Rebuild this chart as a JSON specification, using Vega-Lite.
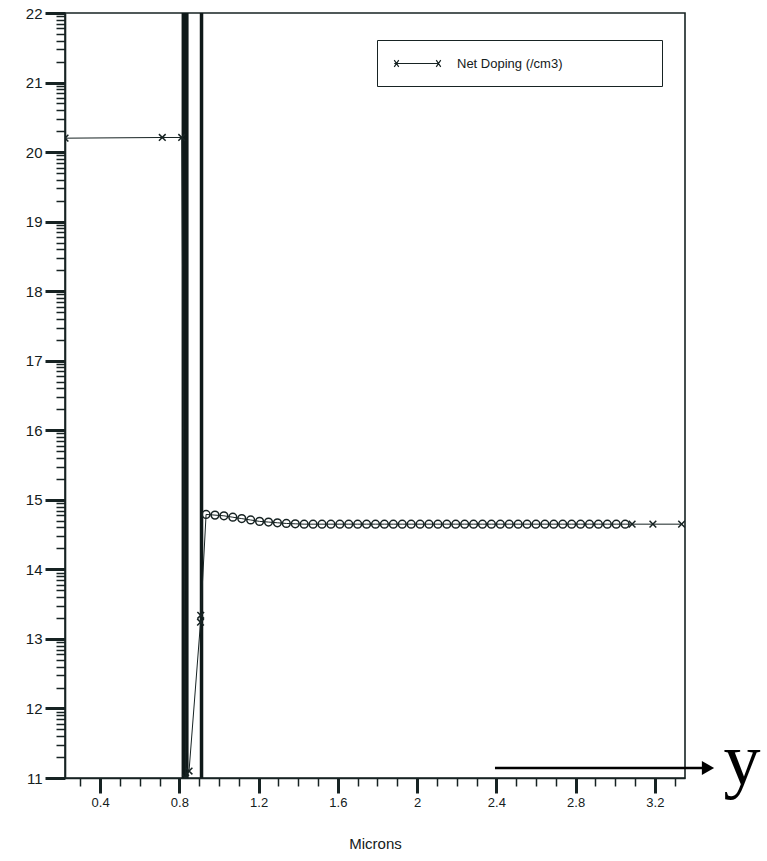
{
  "$schema": "https://vega.github.io/schema/vega-lite/v6.json",
  "width": 620,
  "height": 765,
  "autosize": {"type": "none"},
  "padding": {"left": 65, "top": 13, "right": 82, "bottom": 83},
  "background": "white",
  "config": {
    "view": {"stroke": "#172323", "strokeWidth": 1.6},
    "font": "Liberation Sans",
    "axis": {
      "grid": false,
      "domainColor": "#172323",
      "domainWidth": 1.6,
      "tickColor": "#172323",
      "labelColor": "#142020",
      "labelFont": "Liberation Sans",
      "titleFont": "Liberation Sans",
      "titleFontWeight": "normal",
      "titleColor": "#142020"
    }
  },
  "datasets": {
    "boundaries": [
      {"boundary": "junction", "x": 0.829, "y": 11, "y2": 22},
      {"boundary": "interface", "x": 0.912, "y": 11, "y2": 22}
    ],
    "profile": [
      {"i": 1, "series": "Net Doping (/cm3)", "x": 0.223, "y": 20.2, "marker": "cross"},
      {"i": 2, "series": "Net Doping (/cm3)", "x": 0.714, "y": 20.21, "marker": "cross"},
      {"i": 3, "series": "Net Doping (/cm3)", "x": 0.812, "y": 20.21, "marker": "cross"},
      {"i": 4, "series": "Net Doping (/cm3)", "x": 0.832, "y": 11.0, "marker": "cross"},
      {"i": 5, "series": "Net Doping (/cm3)", "x": 0.849, "y": 11.1, "marker": "cross"},
      {"i": 6, "series": "Net Doping (/cm3)", "x": 0.907, "y": 13.24, "marker": "cross"},
      {"i": 7, "series": "Net Doping (/cm3)", "x": 0.908, "y": 13.34, "marker": "cross"},
      {"i": 8, "series": "Net Doping (/cm3)", "x": 0.935, "y": 14.79, "marker": "circle"},
      {"i": 9, "series": "Net Doping (/cm3)", "x": 0.98, "y": 14.78, "marker": "circle"},
      {"i": 10, "series": "Net Doping (/cm3)", "x": 1.025, "y": 14.77, "marker": "circle"},
      {"i": 11, "series": "Net Doping (/cm3)", "x": 1.07, "y": 14.75, "marker": "circle"},
      {"i": 12, "series": "Net Doping (/cm3)", "x": 1.115, "y": 14.73, "marker": "circle"},
      {"i": 13, "series": "Net Doping (/cm3)", "x": 1.16, "y": 14.71, "marker": "circle"},
      {"i": 14, "series": "Net Doping (/cm3)", "x": 1.205, "y": 14.69, "marker": "circle"},
      {"i": 15, "series": "Net Doping (/cm3)", "x": 1.25, "y": 14.68, "marker": "circle"},
      {"i": 16, "series": "Net Doping (/cm3)", "x": 1.295, "y": 14.67, "marker": "circle"},
      {"i": 17, "series": "Net Doping (/cm3)", "x": 1.34, "y": 14.66, "marker": "circle"},
      {"i": 18, "series": "Net Doping (/cm3)", "x": 1.385, "y": 14.655, "marker": "circle"},
      {"i": 19, "series": "Net Doping (/cm3)", "x": 1.43, "y": 14.65, "marker": "circle"},
      {"i": 20, "series": "Net Doping (/cm3)", "x": 1.475, "y": 14.65, "marker": "circle"},
      {"i": 21, "series": "Net Doping (/cm3)", "x": 1.52, "y": 14.65, "marker": "circle"},
      {"i": 22, "series": "Net Doping (/cm3)", "x": 1.565, "y": 14.65, "marker": "circle"},
      {"i": 23, "series": "Net Doping (/cm3)", "x": 1.61, "y": 14.65, "marker": "circle"},
      {"i": 24, "series": "Net Doping (/cm3)", "x": 1.655, "y": 14.65, "marker": "circle"},
      {"i": 25, "series": "Net Doping (/cm3)", "x": 1.7, "y": 14.65, "marker": "circle"},
      {"i": 26, "series": "Net Doping (/cm3)", "x": 1.745, "y": 14.65, "marker": "circle"},
      {"i": 27, "series": "Net Doping (/cm3)", "x": 1.79, "y": 14.65, "marker": "circle"},
      {"i": 28, "series": "Net Doping (/cm3)", "x": 1.835, "y": 14.65, "marker": "circle"},
      {"i": 29, "series": "Net Doping (/cm3)", "x": 1.88, "y": 14.65, "marker": "circle"},
      {"i": 30, "series": "Net Doping (/cm3)", "x": 1.925, "y": 14.65, "marker": "circle"},
      {"i": 31, "series": "Net Doping (/cm3)", "x": 1.97, "y": 14.65, "marker": "circle"},
      {"i": 32, "series": "Net Doping (/cm3)", "x": 2.015, "y": 14.65, "marker": "circle"},
      {"i": 33, "series": "Net Doping (/cm3)", "x": 2.06, "y": 14.65, "marker": "circle"},
      {"i": 34, "series": "Net Doping (/cm3)", "x": 2.105, "y": 14.65, "marker": "circle"},
      {"i": 35, "series": "Net Doping (/cm3)", "x": 2.15, "y": 14.65, "marker": "circle"},
      {"i": 36, "series": "Net Doping (/cm3)", "x": 2.195, "y": 14.65, "marker": "circle"},
      {"i": 37, "series": "Net Doping (/cm3)", "x": 2.24, "y": 14.65, "marker": "circle"},
      {"i": 38, "series": "Net Doping (/cm3)", "x": 2.285, "y": 14.65, "marker": "circle"},
      {"i": 39, "series": "Net Doping (/cm3)", "x": 2.33, "y": 14.65, "marker": "circle"},
      {"i": 40, "series": "Net Doping (/cm3)", "x": 2.375, "y": 14.65, "marker": "circle"},
      {"i": 41, "series": "Net Doping (/cm3)", "x": 2.42, "y": 14.65, "marker": "circle"},
      {"i": 42, "series": "Net Doping (/cm3)", "x": 2.465, "y": 14.65, "marker": "circle"},
      {"i": 43, "series": "Net Doping (/cm3)", "x": 2.51, "y": 14.65, "marker": "circle"},
      {"i": 44, "series": "Net Doping (/cm3)", "x": 2.555, "y": 14.65, "marker": "circle"},
      {"i": 45, "series": "Net Doping (/cm3)", "x": 2.6, "y": 14.65, "marker": "circle"},
      {"i": 46, "series": "Net Doping (/cm3)", "x": 2.645, "y": 14.65, "marker": "circle"},
      {"i": 47, "series": "Net Doping (/cm3)", "x": 2.69, "y": 14.65, "marker": "circle"},
      {"i": 48, "series": "Net Doping (/cm3)", "x": 2.735, "y": 14.65, "marker": "circle"},
      {"i": 49, "series": "Net Doping (/cm3)", "x": 2.78, "y": 14.65, "marker": "circle"},
      {"i": 50, "series": "Net Doping (/cm3)", "x": 2.825, "y": 14.65, "marker": "circle"},
      {"i": 51, "series": "Net Doping (/cm3)", "x": 2.87, "y": 14.65, "marker": "circle"},
      {"i": 52, "series": "Net Doping (/cm3)", "x": 2.915, "y": 14.65, "marker": "circle"},
      {"i": 53, "series": "Net Doping (/cm3)", "x": 2.96, "y": 14.65, "marker": "circle"},
      {"i": 54, "series": "Net Doping (/cm3)", "x": 3.005, "y": 14.65, "marker": "circle"},
      {"i": 55, "series": "Net Doping (/cm3)", "x": 3.05, "y": 14.65, "marker": "circle"},
      {"i": 56, "series": "Net Doping (/cm3)", "x": 3.085, "y": 14.65, "marker": "cross"},
      {"i": 57, "series": "Net Doping (/cm3)", "x": 3.19, "y": 14.65, "marker": "cross"},
      {"i": 58, "series": "Net Doping (/cm3)", "x": 3.335, "y": 14.65, "marker": "cross"}
    ],
    "arrow": [{"x": 2.393, "x2": 3.455, "y": 11.144}],
    "arrowhead": [{"x": 3.468, "y": 11.144}],
    "arrowlabel": [{"x": 3.64, "y": 10.914, "label": "y"}]
  },
  "encoding": {
    "x": {
      "field": "x", "type": "quantitative",
      "scale": {"domain": [0.223, 3.352], "nice": false, "zero": false},
      "axis": {
        "title": "Microns",
        "titleFontSize": 15,
        "titlePadding": 27,
        "tickCount": 200,
        "values": [0.3, 0.4, 0.5, 0.6, 0.7, 0.8, 0.9, 1.0, 1.1, 1.2, 1.3, 1.4, 1.5, 1.6, 1.7, 1.8, 1.9, 2.0, 2.1, 2.2, 2.3, 2.4, 2.5, 2.6, 2.7, 2.8, 2.9, 3.0, 3.1, 3.2, 3.3],
        "format": "~g",
        "labelExpr": "abs(datum.value*2.5 - round(datum.value*2.5)) < 0.001 ? datum.label : ''",
        "labelFontSize": 13,
        "labelPadding": 3,
        "labelFlush": false,
        "labelOverlap": false,
        "tickSize": {"condition": {"test": "abs(datum.value*2.5 - round(datum.value*2.5)) < 0.001", "value": 15}, "value": 8},
        "tickWidth": {"condition": {"test": "abs(datum.value*2.5 - round(datum.value*2.5)) < 0.001", "value": 3}, "value": 1.5}
      }
    },
    "y": {
      "field": "y", "type": "quantitative",
      "scale": {"domain": [11, 22], "nice": false, "zero": false},
      "axis": {
        "title": null,
        "tickCount": 200,
        "tickMinStep": 0.01,
        "values": [11, 11.30103, 11.47712, 11.60206, 11.69897, 11.77815, 11.8451, 11.90309, 11.95424,
                   12, 12.30103, 12.47712, 12.60206, 12.69897, 12.77815, 12.8451, 12.90309, 12.95424,
                   13, 13.30103, 13.47712, 13.60206, 13.69897, 13.77815, 13.8451, 13.90309, 13.95424,
                   14, 14.30103, 14.47712, 14.60206, 14.69897, 14.77815, 14.8451, 14.90309, 14.95424,
                   15, 15.30103, 15.47712, 15.60206, 15.69897, 15.77815, 15.8451, 15.90309, 15.95424,
                   16, 16.30103, 16.47712, 16.60206, 16.69897, 16.77815, 16.8451, 16.90309, 16.95424,
                   17, 17.30103, 17.47712, 17.60206, 17.69897, 17.77815, 17.8451, 17.90309, 17.95424,
                   18, 18.30103, 18.47712, 18.60206, 18.69897, 18.77815, 18.8451, 18.90309, 18.95424,
                   19, 19.30103, 19.47712, 19.60206, 19.69897, 19.77815, 19.8451, 19.90309, 19.95424,
                   20, 20.30103, 20.47712, 20.60206, 20.69897, 20.77815, 20.8451, 20.90309, 20.95424,
                   21, 21.30103, 21.47712, 21.60206, 21.69897, 21.77815, 21.8451, 21.90309, 21.95424,
                   22],
        "labelExpr": "datum.value % 1 === 0 ? format(datum.value, 'd') : ''",
        "labelFontSize": 15,
        "labelPadding": 3,
        "labelFlush": false,
        "labelOverlap": false,
        "tickSize": {"condition": {"test": "datum.value % 1 === 0", "value": 20}, "value": 9},
        "tickWidth": {"condition": {"test": "datum.value % 1 === 0", "value": 3}, "value": 1.5}
      }
    }
  },
  "layer": [
    {
      "data": {"name": "boundaries"},
      "mark": {"type": "rule", "color": "#0f1919", "clip": true},
      "encoding": {
        "y2": {"field": "y2"},
        "strokeWidth": {
          "field": "boundary", "type": "ordinal",
          "scale": {"domain": ["junction", "interface"], "range": [7, 3.5]},
          "legend": null
        }
      }
    },
    {
      "data": {"name": "profile"},
      "mark": {"type": "line", "strokeWidth": 1, "clip": true},
      "encoding": {
        "order": {"field": "i", "type": "quantitative"},
        "color": {
          "field": "series", "type": "nominal",
          "scale": {"range": ["#172323"]},
          "legend": {
            "title": null,
            "orient": "none",
            "legendX": 312,
            "legendY": 27,
            "padding": 15,
            "strokeColor": "#172323",
            "fillColor": "white",
            "symbolType": "M-3.1,0H2.7M-3.1,-0.45L-2.5,0.45M-3.1,0.45L-2.5,-0.45M2.5,-0.45L3.1,0.45M2.5,0.45L3.1,-0.45",
            "symbolSize": 225,
            "symbolOffset": 17,
            "symbolStrokeWidth": 1.2,
            "symbolFillColor": "transparent",
            "labelFont": "Liberation Sans",
            "labelFontSize": 13,
            "labelColor": "#142020",
            "labelOffset": 31,
            "labelLimit": 400,
            "labelExpr": "datum.label + '\u2003\u2003\u2003\u2003\u2003\u2003\u2002\u200b'"
          }
        }
      }
    },
    {
      "data": {"name": "profile"},
      "mark": {"type": "point", "filled": false, "strokeWidth": 1.5, "color": "#172323", "clip": true, "opacity": 1},
      "encoding": {
        "shape": {
          "field": "marker", "type": "nominal",
          "scale": {"domain": ["cross", "circle"], "range": ["M-1,-1L1,1M-1,1L1,-1", "circle"]},
          "legend": null
        },
        "size": {
          "field": "marker", "type": "nominal",
          "scale": {"domain": ["cross", "circle"], "range": [45, 60]},
          "legend": null
        }
      }
    },
    {
      "data": {"name": "arrow"},
      "mark": {"type": "rule", "color": "black", "strokeWidth": 2.5, "clip": false},
      "encoding": {
        "x2": {"field": "x2"}
      }
    },
    {
      "data": {"name": "arrowhead"},
      "mark": {"type": "point", "shape": "triangle-right", "filled": true, "color": "black", "size": 200, "opacity": 1, "clip": false},
      "encoding": {}
    },
    {
      "data": {"name": "arrowlabel"},
      "mark": {"type": "text", "font": "Liberation Serif", "fontSize": 74, "color": "black", "align": "center", "baseline": "alphabetic", "clip": false},
      "encoding": {
        "text": {"field": "label"}
      }
    }
  ]
}
